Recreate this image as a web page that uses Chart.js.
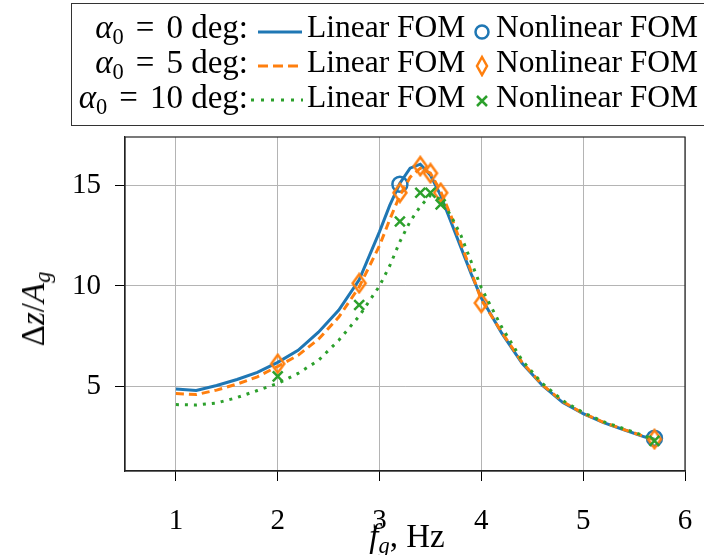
<!DOCTYPE html>
<html>
<head>
<meta charset="utf-8">
<script src="https://cdn.jsdelivr.net/npm/chart.js@4.4.1/dist/chart.umd.min.js"></script>
<style>
  html, body { margin: 0; padding: 0; background: #fff; }
  #wrap { position: relative; width: 704px; height: 555px; overflow: hidden; font-family: "Liberation Serif", serif; color: #000; }
  #chart { position: absolute; left: 0; top: 0; }
  .lbl { position: absolute; white-space: nowrap; font-size: 31.5px; line-height: 30px; }
  .lbl sub { font-size: 0.68em; vertical-align: -0.25em; line-height: 0; }
  .eq { margin: 0 12px; }
  #legend { position: absolute; left: 71px; top: 3px; width: 660px; height: 123px; border: 1.3px solid #333; box-sizing: border-box; }
  .row { position: absolute; left: 0; height: 30px; width: 660px; }
  .row .name { position: absolute; right: 484px; top: 0; font-size: 33px; }
  .row .l1 { position: absolute; left: 235px; top: 0; }
  .row .l2 { position: absolute; left: 424px; top: 0; }
  .row svg { position: absolute; top: 0; }
</style>
</head>
<body>
<div id="wrap">
  <canvas id="chart" width="704" height="555"></canvas>

  <div id="legend">
    <div class="row lbl" style="top:8px">
      <span class="name"><i>α</i><sub>0</sub><span class="eq">=</span>0 deg:</span>
      <svg style="left:185px" width="46" height="30"><line x1="1" y1="20" x2="45" y2="20" stroke="#1f77b4" stroke-width="3"/></svg>
      <span class="l1">Linear FOM</span>
      <svg style="left:400px" width="22" height="30"><circle cx="10" cy="20" r="6.5" fill="none" stroke="#1f77b4" stroke-width="2.5"/></svg>
      <span class="l2">Nonlinear FOM</span>
    </div>
    <div class="row lbl" style="top:43px">
      <span class="name"><i>α</i><sub>0</sub><span class="eq">=</span>5 deg:</span>
      <svg style="left:185px" width="46" height="30"><line x1="1" y1="19" x2="45" y2="19" stroke="#ff7f0e" stroke-width="3" stroke-dasharray="10,5"/></svg>
      <span class="l1">Linear FOM</span>
      <svg style="left:400px" width="22" height="30"><polygon points="10,10 15,19 10,28 5,19" fill="none" stroke="#ff7f0e" stroke-width="2.5"/></svg>
      <span class="l2">Nonlinear FOM</span>
    </div>
    <div class="row lbl" style="top:78px">
      <span class="name"><i>α</i><sub>0</sub><span class="eq">=</span>10 deg:</span>
      <svg style="left:178px" width="54" height="30"><line x1="1" y1="18" x2="53" y2="18" stroke="#2ca02c" stroke-width="3" stroke-dasharray="3,7"/></svg>
      <span class="l1">Linear FOM</span>
      <svg style="left:400px" width="22" height="30"><path d="M5,14 L15,24 M15,14 L5,24" stroke="#2ca02c" stroke-width="2.5"/></svg>
      <span class="l2">Nonlinear FOM</span>
    </div>
  </div>

  <div class="lbl" style="left:33px; top:309px; font-size:33px; transform: translate(-50%,-50%) rotate(-90deg);">Δ<i>z</i>/<i>A</i><sub><i>g</i></sub></div>
  <div class="lbl" style="left:407px; top:521px; font-size:33px; transform: translateX(-50%);"><i>f</i><sub><i>g</i></sub>, Hz</div>
</div>

<script>
// frequency grid of the linear FOM curves (Hz)
const freqLinear = [1.0, 1.2, 1.4, 1.6, 1.8, 2.0, 2.2, 2.4, 2.6, 2.8, 3.0, 3.1, 3.2, 3.3, 3.4,
                    3.5, 3.6, 3.7, 3.8, 3.9, 4.0, 4.2, 4.4, 4.6, 4.8, 5.0, 5.2, 5.4, 5.6, 5.7];
const linear0 = [4.88, 4.80, 5.05, 5.35, 5.70, 6.20, 6.80, 7.70, 8.80, 10.30, 12.70, 14.00, 15.10, 15.85, 16.05,
                 15.50, 14.50, 13.20, 11.90, 10.60, 9.40, 7.65, 6.15, 5.05, 4.20, 3.65, 3.20, 2.85, 2.50, 2.38];
const linear5 = [4.65, 4.60, 4.82, 5.12, 5.48, 6.00, 6.55, 7.35, 8.45, 9.95, 12.00, 13.30, 14.50, 15.40, 15.85,
                 15.60, 14.70, 13.50, 12.10, 10.70, 9.30, 7.70, 6.20, 5.08, 4.25, 3.66, 3.22, 2.86, 2.52, 2.35];
const linear10 = [4.10, 4.08, 4.18, 4.45, 4.80, 5.15, 5.65, 6.30, 7.30, 8.50, 10.00, 11.00, 12.20, 13.20, 13.95,
                  14.50, 14.30, 13.50, 12.50, 11.20, 9.90, 7.95, 6.30, 5.15, 4.30, 3.70, 3.25, 2.90, 2.55, 2.35];

// nonlinear FOM samples
const freqNl0 = [3.2, 5.7];
const nonlinear0 = [15.05, 2.43];
const freqNl5 = [2.0, 2.8, 3.2, 3.4, 3.5, 3.6, 4.0, 5.7];
const nonlinear5 = [6.13, 10.13, 14.63, 15.95, 15.6, 14.63, 9.15, 2.38];
const freqNl10 = [2.0, 2.8, 3.2, 3.4, 3.5, 3.6, 5.7];
const nonlinear10 = [5.5, 9.05, 13.2, 14.63, 14.63, 14.05, 2.3];

const xTicks = [1, 2, 3, 4, 5, 6];
const yTicks = [5, 10, 15];

const BLUE = '#1f77b4', ORANGE = '#ff7f0e', GREEN = '#2ca02c';
const FONT = '"Liberation Serif", serif';

const pts = (xs, ys) => xs.map((x, i) => ({ x: x, y: ys[i] }));

// tall hollow diamond marker like the pgfplots one
function diamond() {
  const c = document.createElement('canvas');
  c.width = 18; c.height = 22;
  const g = c.getContext('2d');
  g.strokeStyle = ORANGE;
  g.lineWidth = 2.5;
  g.beginPath();
  g.moveTo(9, 2); g.lineTo(15.5, 11); g.lineTo(9, 20); g.lineTo(2.5, 11);
  g.closePath();
  g.stroke();
  return c;
}

const lineSet = (label, data, color, dash, order) => ({
  label, data, borderColor: color, borderWidth: 3, borderDash: dash,
  pointRadius: 0, fill: false, tension: 0, order
});
const markSet = (label, data, color, style, radius, order) => ({
  label, data, showLine: false, borderColor: color, backgroundColor: 'rgba(0,0,0,0)',
  pointStyle: style, pointRadius: radius, pointBorderWidth: 2.5, order
});

const frame = {
  id: 'frame',
  beforeDatasetsDraw(chart) {
    const a = chart.chartArea, ctx = chart.ctx;
    ctx.save();
    ctx.strokeStyle = '#222';
    ctx.lineWidth = 1.2;
    ctx.strokeRect(a.left, a.top, a.right - a.left, a.bottom - a.top);
    ctx.restore();
  }
};

new Chart(document.getElementById('chart').getContext('2d'), {
  type: 'line',
  data: {
    datasets: [
      lineSet('a0 linear', pts(freqLinear, linear0), BLUE, [], 6),
      markSet('a0 nonlinear', pts(freqNl0, nonlinear0), BLUE, 'circle', 7.5, 5),
      lineSet('a5 linear', pts(freqLinear, linear5), ORANGE, [8, 5], 4),
      markSet('a5 nonlinear', pts(freqNl5, nonlinear5), ORANGE, diamond(), 9, 3),
      lineSet('a10 linear', pts(freqLinear, linear10), GREEN, [3, 6], 2),
      markSet('a10 nonlinear', pts(freqNl10, nonlinear10), GREEN, 'crossRot', 7, 1)
    ]
  },
  options: {
    responsive: false,
    animation: false,
    layout: { padding: { top: 137, right: 19, left: 0, bottom: 0 } },
    plugins: { legend: { display: false }, tooltip: { enabled: false } },
    scales: {
      x: {
        type: 'linear', min: 0.5, max: 6,
        afterBuildTicks: s => { s.ticks = xTicks.map(v => ({ value: v })); },
        afterFit: s => { s.height = 84; s.paddingLeft = 0; s.paddingRight = 0; },
        ticks: { color: '#000', font: { family: FONT, size: 29 }, padding: 23, maxRotation: 0 },
        grid: { color: '#b4b4b4', lineWidth: 1, tickColor: '#000', tickLength: 10 },
        border: { color: '#222', width: 1.2 }
      },
      y: {
        type: 'linear', min: 0.8, max: 17.4,
        afterBuildTicks: s => { s.ticks = yTicks.map(v => ({ value: v })); },
        afterFit: s => { s.width = 125; s.paddingTop = 0; s.paddingBottom = 0; },
        ticks: { color: '#000', font: { family: FONT, size: 29 }, padding: 14 },
        grid: { color: '#b4b4b4', lineWidth: 1, tickColor: '#000', tickLength: 10 },
        border: { color: '#222', width: 1.2 }
      }
    }
  },
  plugins: [frame]
});
</script>
</body>
</html>
